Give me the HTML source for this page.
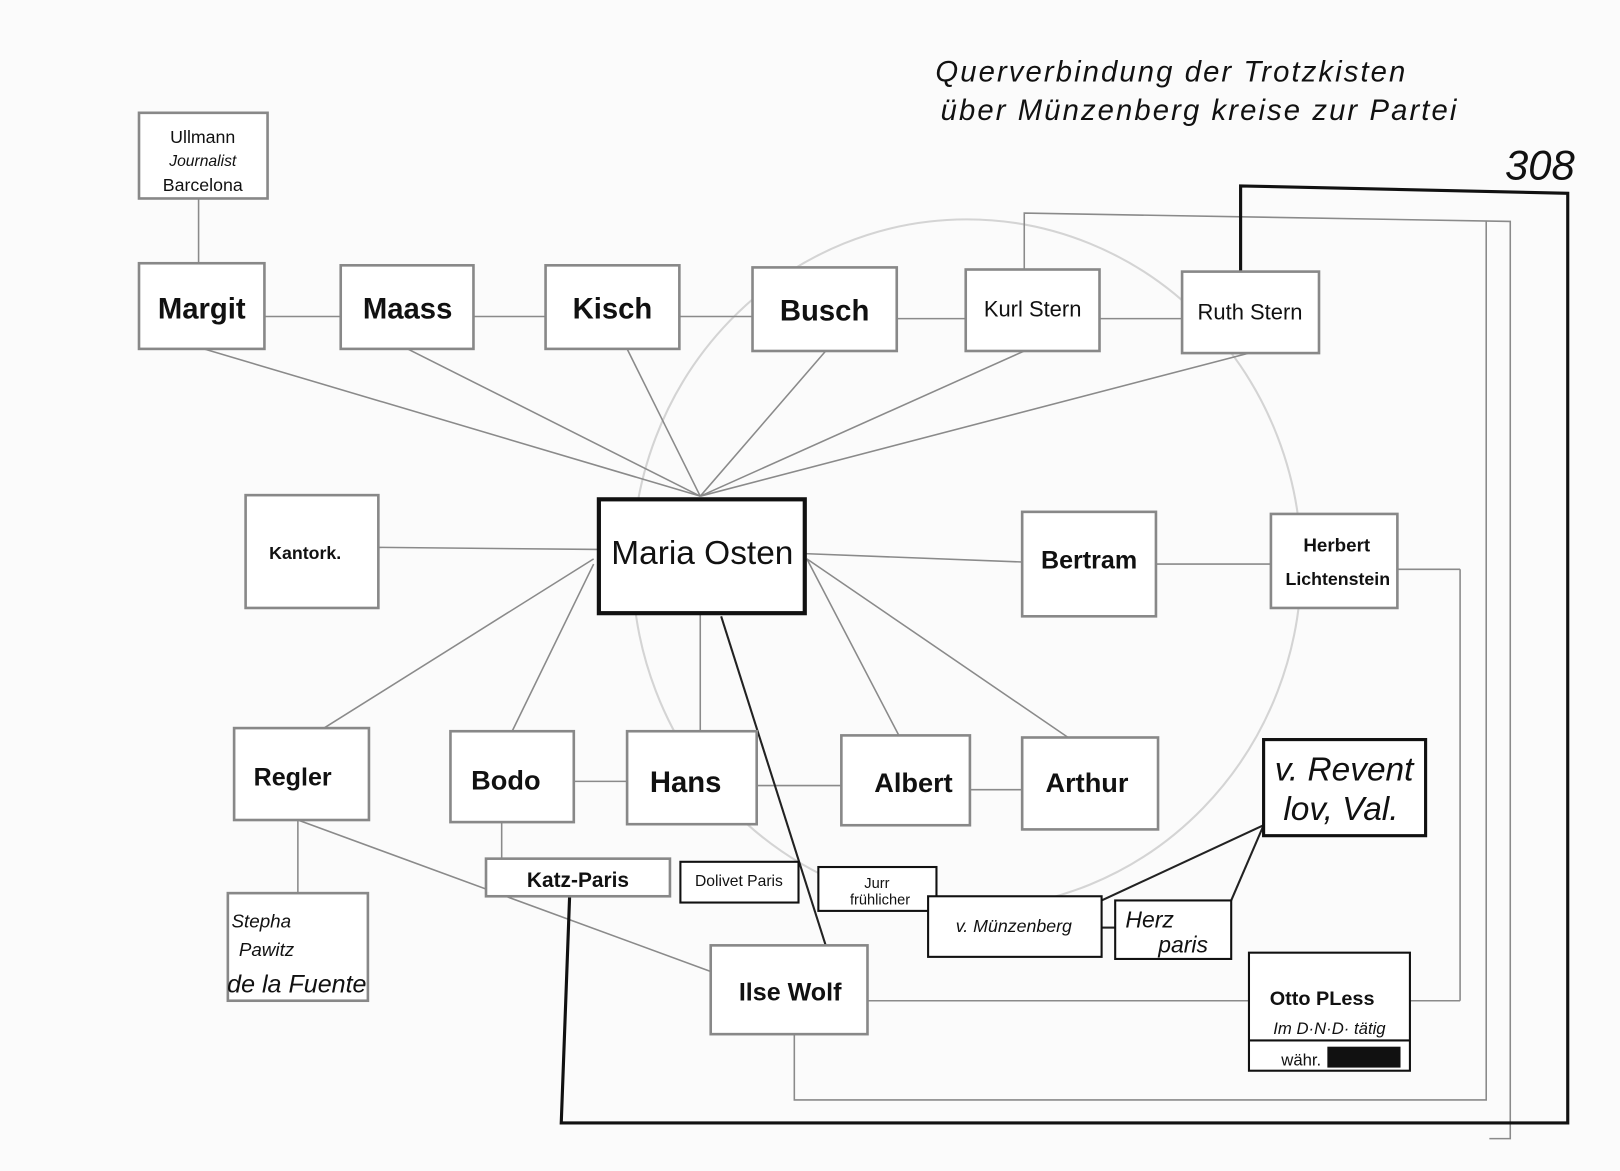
<!DOCTYPE html>
<html><head><meta charset="utf-8"><style>
html,body{margin:0;padding:0;background:#fbfbfb;}
svg{display:block}
text{font-family:"Liberation Sans",sans-serif;fill:#111;}
</style></head><body>
<svg width="1620" height="1171" viewBox="0 0 1550 1121" preserveAspectRatio="none" xmlns="http://www.w3.org/2000/svg">
<rect width="1550" height="1121" fill="#fbfbfb"/>
<ellipse cx="925" cy="540" rx="320" ry="330" fill="none" stroke="#d4d4d4" stroke-width="2"/>
<g stroke="#8a8a8a" stroke-width="1.5" fill="none">
<line x1="190" y1="190" x2="190" y2="252"/>
<line x1="253" y1="303" x2="326" y2="303"/>
<line x1="453" y1="303" x2="522" y2="303"/>
<line x1="650" y1="303" x2="720" y2="303"/>
<line x1="858" y1="305" x2="924" y2="305"/>
<line x1="1052" y1="305" x2="1131" y2="305"/>
<line x1="195" y1="334" x2="670" y2="475"/>
<line x1="390" y1="334" x2="670" y2="475"/>
<line x1="600" y1="334" x2="670" y2="475"/>
<line x1="790" y1="336" x2="670" y2="475"/>
<line x1="980" y1="336" x2="670" y2="475"/>
<line x1="1195" y1="338" x2="670" y2="475"/>
<line x1="362" y1="524" x2="573" y2="526"/>
<line x1="770" y1="530" x2="978" y2="538"/>
<line x1="1106" y1="540" x2="1216" y2="540"/>
<line x1="568" y1="535" x2="310" y2="697"/>
<line x1="568" y1="540" x2="490" y2="700"/>
<line x1="670" y1="587" x2="670" y2="700"/>
<line x1="772" y1="535" x2="860" y2="704"/>
<line x1="772" y1="535" x2="1022" y2="706"/>
<line x1="549" y1="748" x2="600" y2="748"/>
<line x1="724" y1="752" x2="805" y2="752"/>
<line x1="928" y1="756" x2="978" y2="756"/>
<line x1="285" y1="785" x2="285" y2="855"/>
<line x1="285" y1="785" x2="680" y2="930"/>
<line x1="480" y1="787" x2="480" y2="822"/>
<line x1="830" y1="958" x2="1195" y2="958"/>
<line x1="1337" y1="545" x2="1397" y2="545" /><line x1="1397" y1="545" x2="1397" y2="958"/><line x1="1397" y1="958" x2="1349" y2="958"/>
<polyline points="980,258 980,204 1445,212 1445,1090 1425,1090"/>
<polyline points="760,990 760,1053 1422,1053 1422,212"/>
</g>
<g stroke="#222" stroke-width="2" fill="none">
<line x1="690" y1="590" x2="790" y2="905"/>
<line x1="1209" y1="790" x2="1054" y2="862"/>
<line x1="1209" y1="790" x2="1178" y2="862"/>
<line x1="1054" y1="888" x2="1067" y2="888"/>
</g>
<g stroke="#111" stroke-width="3" fill="none">
<polyline points="1187,260 1187,178 1500,185 1500,1075 537,1075 545,858"/>
</g>
<g fill="#fff" stroke="#888" stroke-width="2.5">
<rect x="133" y="108" width="123" height="82"/>
<rect x="133" y="252" width="120" height="82"/>
<rect x="326" y="254" width="127" height="80"/>
<rect x="522" y="254" width="128" height="80"/>
<rect x="720" y="256" width="138" height="80"/>
<rect x="924" y="258" width="128" height="78"/>
<rect x="1131" y="260" width="131" height="78"/>
<rect x="235" y="474" width="127" height="108"/>
<rect x="978" y="490" width="128" height="100"/>
<rect x="1216" y="492" width="121" height="90"/>
<rect x="224" y="697" width="129" height="88"/>
<rect x="431" y="700" width="118" height="87"/>
<rect x="600" y="700" width="124" height="89"/>
<rect x="805" y="704" width="123" height="86"/>
<rect x="978" y="706" width="130" height="88"/>
<rect x="218" y="855" width="134" height="103"/>
<rect x="465" y="822" width="176" height="36"/>
<rect x="680" y="905" width="150" height="85"/>
</g>
<g fill="#fff" stroke="#111" stroke-width="2">
<rect x="651" y="825" width="113" height="39"/>
<rect x="783" y="830" width="113" height="42"/>
<rect x="888" y="858" width="166" height="58"/>
<rect x="1067" y="862" width="111" height="56"/>
<rect x="1195" y="912" width="154" height="113"/>
<line x1="1195" y1="996" x2="1349" y2="996"/>
</g>
<rect x="573" y="478" width="197" height="109" fill="#fff" stroke="#111" stroke-width="4"/>
<rect x="1209" y="708" width="155" height="92" fill="#fff" stroke="#111" stroke-width="3"/>
<g font-size="28" font-weight="bold" text-anchor="middle">
<text x="193" y="305">Margit</text>
<text x="390" y="305">Maass</text>
<text x="586" y="305">Kisch</text>
<text x="789" y="307">Busch</text>
<text x="1042" y="544" font-size="24">Bertram</text>
<text x="280" y="752" font-size="24">Regler</text>
<text x="484" y="756" font-size="26">Bodo</text>
<text x="656" y="758">Hans</text>
<text x="874" y="758" font-size="26">Albert</text>
<text x="1040" y="758" font-size="26">Arthur</text>
<text x="756" y="958" font-size="24">Ilse Wolf</text>
</g>
<g text-anchor="middle">
<text x="988" y="303" font-size="21">Kurl Stern</text>
<text x="1196" y="306" font-size="21">Ruth Stern</text>
<text x="292" y="535" font-size="17" font-weight="bold">Kantork.</text>
<text x="672" y="540" font-size="32">Maria Osten</text>
<text x="1279" y="528" font-size="18" font-weight="bold">Herbert</text>
<text x="1280" y="560" font-size="17" font-weight="bold">Lichtenstein</text>
<text x="1286" y="747" font-size="32" font-style="italic">v. Revent</text>
<text x="1283" y="785" font-size="32" font-style="italic">lov, Val.</text>
<text x="553" y="849" font-size="20" font-weight="bold">Katz-Paris</text>
<text x="707" y="848" font-size="15">Dolivet Paris</text>
<text x="839" y="850" font-size="14">Jurr</text>
<text x="842" y="866" font-size="14">frühlicher</text>
<text x="970" y="892" font-size="17" font-style="italic">v. Münzenberg</text>
<text x="1100" y="888" font-size="22" font-style="italic">Herz</text>
<text x="1132" y="912" font-size="22" font-style="italic">paris</text>
<text x="1265" y="962" font-size="19" font-weight="bold">Otto PLess</text>
<text x="1272" y="990" font-size="16" font-style="italic">Im D·N·D· tätig</text>
<text x="1245" y="1020" font-size="16">währ.</text>
<rect x="1270" y="1002" width="70" height="20" fill="#111"/>
<text x="194" y="137" font-size="17">Ullmann</text>
<text x="194" y="159" font-size="15" font-style="italic">Journalist</text>
<text x="194" y="183" font-size="17">Barcelona</text>
<text x="250" y="888" font-size="18" font-style="italic">Stepha</text>
<text x="255" y="915" font-size="18" font-style="italic">Pawitz</text>
<text x="284" y="950" font-size="24" font-style="italic">de la Fuente</text>
</g>
<g font-size="28" font-style="italic" letter-spacing="2">
<text x="895" y="78">Querverbindung der Trotzkisten</text>
<text x="900" y="115">über Münzenberg kreise zur Partei</text>
</g>
<text x="1440" y="172" font-size="40" fill="#888" font-style="italic">308</text>
</svg>
</body></html>
